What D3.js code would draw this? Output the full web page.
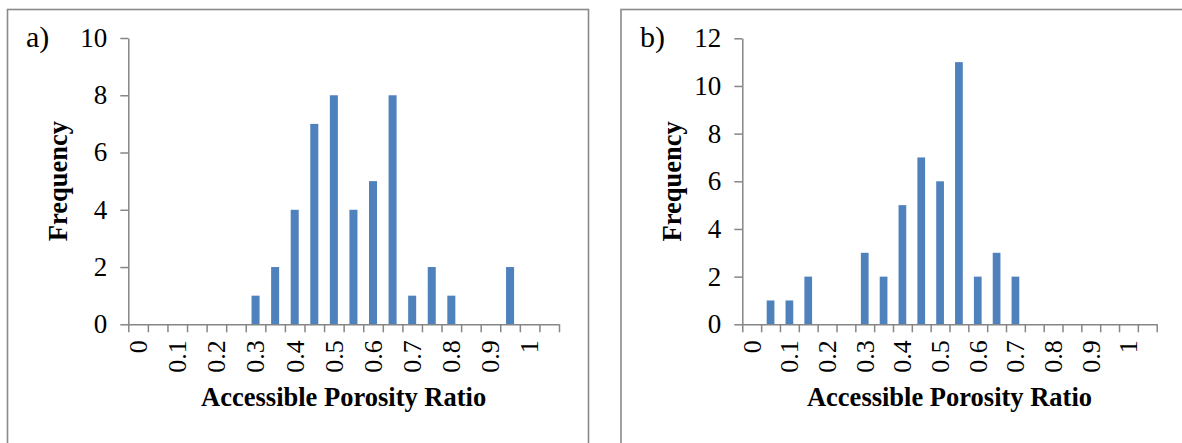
<!DOCTYPE html>
<html>
<head>
<meta charset="utf-8">
<script src="https://cdn.jsdelivr.net/npm/d3@7"></script>
<style>
  html, body { margin: 0; padding: 0; background: #fff; }
  svg { display: block; }
  svg text { font-family: "Liberation Serif", "Times New Roman", serif; fill: #000; }
</style>
</head>
<body>
<svg id="chart" width="1182" height="443"></svg>
<script>
// Bins of the accessible porosity ratio (category axis, width 0.05)
const categories = ["0","0.05","0.1","0.15","0.2","0.25","0.3","0.35","0.4","0.45","0.5",
                    "0.55","0.6","0.65","0.7","0.75","0.8","0.85","0.9","0.95","1","1.05"];
// Tick labels shown on the category axis
const xTickLabels = ["0","0.1","0.2","0.3","0.4","0.5","0.6","0.7","0.8","0.9","1"];
// Frequencies, panel a)
const freqA = [0,0,0,0,0,0,1,2,4,7,8,4,5,8,1,2,1,0,0,2,0,0];
// Frequencies, panel b)
const freqB = [0,1,1,2,0,0,3,2,5,7,6,11,2,3,2,0,0,0,0,0,0,0];
// Y tick values
const yTicksA = [0,2,4,6,8,10];
const yTicksB = [0,2,4,6,8,10,12];
const panelLabels = ["a)","b)"];
const xTitle = "Accessible Porosity Ratio";
const yTitle = "Frequency";

const SERIF = '"Liberation Serif", "Times New Roman", serif';
const svg = d3.select("#chart");
const AXIS = "#868686";
const BAR = "#4F81BD";

function panel(cfg) {
  const g = svg.append("g");
  g.append("rect")
    .attr("x", cfg.fx).attr("y", cfg.fy)
    .attr("width", cfg.fw).attr("height", cfg.fh)
    .attr("fill", "#fff").attr("stroke", "#8a8a8a").attr("stroke-width", 1.6);

  const x = d3.scaleBand().domain(categories).range([cfg.x0, cfg.x1])
    .paddingInner(0.59).paddingOuter(0.295);
  const xb = d3.scaleLinear().domain([0, categories.length]).range([cfg.x0, cfg.x1]);
  const y = d3.scaleLinear().domain([0, d3.max(cfg.ticks)]).range([cfg.yb, cfg.yt]);

  // bars
  g.append("g").selectAll("rect").data(cfg.values).join("rect")
    .attr("x", (d, i) => x(categories[i]))
    .attr("width", x.bandwidth())
    .attr("y", d => y(d))
    .attr("height", d => y(0) - y(d))
    .attr("fill", BAR);

  // y axis (line + ticks)
  const ya = g.append("g").attr("transform", `translate(${cfg.x0},0)`)
    .call(d3.axisLeft(y).tickValues(cfg.ticks).tickSize(8).tickSizeOuter(0).tickFormat(""));
  ya.selectAll("path, line").attr("stroke", AXIS).attr("stroke-width", 1.5);
  // y tick labels
  g.append("g").selectAll("text").data(cfg.ticks).join("text")
    .attr("x", cfg.x0 - 21).attr("y", d => y(d)).attr("dy", "0.33em")
    .attr("text-anchor", "end").attr("font-family", SERIF).attr("font-size", 27)
    .text(d => d);

  // x axis line + tick marks at category boundaries
  const xa = g.append("g").attr("transform", `translate(0,${cfg.yb})`)
    .call(d3.axisBottom(xb).tickValues(d3.range(categories.length + 1)).tickSize(8)
      .tickSizeOuter(0).tickFormat(""));
  xa.selectAll("path, line").attr("stroke", AXIS).attr("stroke-width", 1.5);

  // x tick labels (rotated, every other category)
  const shown = categories.filter(c => xTickLabels.includes(c));
  g.append("g").selectAll("text").data(shown).join("text")
    .attr("transform", c => `translate(${x(c) + x.bandwidth() / 2},${cfg.yb + 16}) rotate(-90)`)
    .attr("text-anchor", "end").attr("dy", "0.34em")
    .attr("font-family", SERIF).attr("font-size", 26)
    .text(c => c);

  // axis titles
  g.append("text")
    .attr("x", (cfg.x0 + cfg.x1) / 2).attr("y", cfg.yb + 82)
    .attr("text-anchor", "middle").attr("font-weight", "bold").attr("font-size", 26.5)
    .text(xTitle);
  g.append("text")
    .attr("transform", `translate(${cfg.x0 - 61},${(cfg.yt + cfg.yb) / 2}) rotate(-90)`)
    .attr("text-anchor", "middle").attr("font-weight", "bold").attr("font-size", 26.5)
    .text(yTitle);

  // panel label
  g.append("text").attr("x", cfg.lx).attr("y", 47).attr("font-size", 30).text(cfg.label);
}

panel({ fx: 7.5, fy: 9.5, fw: 581, fh: 500, x0: 128.3, x1: 559, yb: 324.3, yt: 38,
        values: freqA, ticks: yTicksA, label: panelLabels[0], lx: 26 });
panel({ fx: 621, fy: 9.5, fw: 620, fh: 500, x0: 742.3, x1: 1156.7, yb: 324.3, yt: 38.3,
        values: freqB, ticks: yTicksB, label: panelLabels[1], lx: 640 });

// force a synchronous layout so the serif face is resolved before the snapshot
svg.selectAll("text").each(function () { this.getBBox(); getComputedStyle(this).fontFamily; });
</script>
</body>
</html>
